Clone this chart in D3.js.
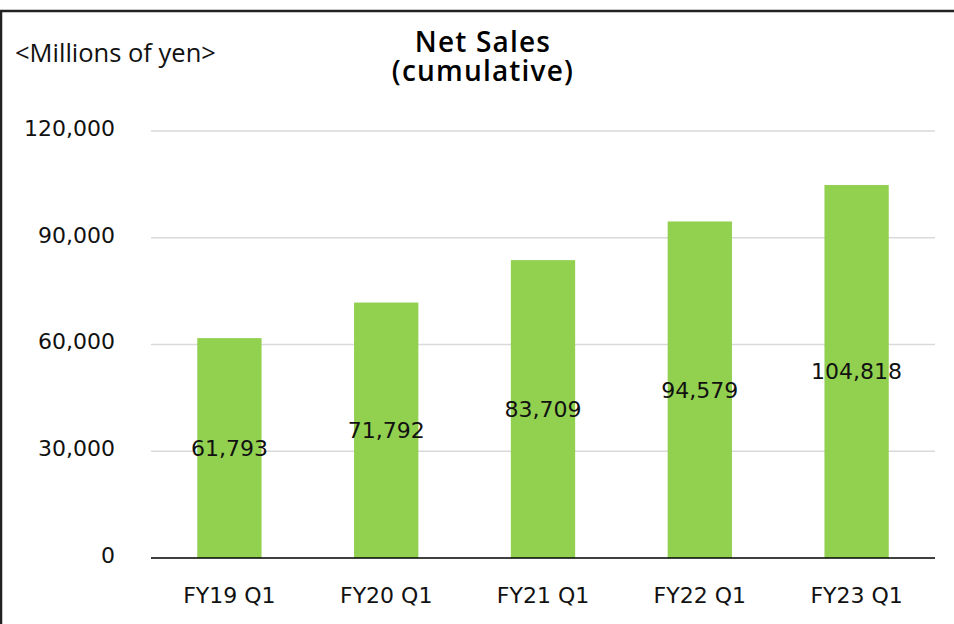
<!DOCTYPE html>
<html>
<head>
<meta charset="utf-8">
<script src="https://cdn.jsdelivr.net/npm/d3@7"></script>
<style>
  body { margin: 0; background: #fff; }
  svg { display: block; }
  .tick-label { font-family: "DejaVu Sans", sans-serif; font-size: 22px; fill: #111; }
  .value-label { font-family: "DejaVu Sans", sans-serif; font-size: 22px; fill: #111; }
  .title { font-family: "Open Sans", sans-serif; font-weight: 600; font-size: 28px; letter-spacing: 1.2px; fill: #000; }
  .unit { font-family: "Open Sans", sans-serif; font-size: 25.5px; fill: #111; }
</style>
</head>
<body>
<div id="chart"></div>
<script>
// Data
const categories = ["FY19 Q1", "FY20 Q1", "FY21 Q1", "FY22 Q1", "FY23 Q1"];
const netSales = [61793, 71792, 83709, 94579, 104818];
const yTicks = [0, 30000, 60000, 90000, 120000];
const titleLines = ["Net Sales", "(cumulative)"];

const width = 954, height = 624;
const margin = { top: 131, right: 19, bottom: 66, left: 151 };

const svg = d3.select("#chart")
    .append("svg")
    .attr("width", width)
    .attr("height", height);

// outer frame (only top and left edges show)
svg.append("path")
    .attr("d", `M1,${height}V11H${width}`)
    .attr("fill", "none")
    .attr("stroke", "#222")
    .attr("stroke-width", 2.5);

const x = d3.scaleBand()
    .domain(categories)
    .range([margin.left, width - margin.right])
    .paddingInner(0.59)
    .paddingOuter(0.295);

const y = d3.scaleLinear()
    .domain([0, 120000])
    .range([height - margin.bottom, margin.top]);

const fmt = d3.format(",");

// gridlines
svg.append("g")
    .selectAll("line")
    .data(yTicks.filter(d => d > 0))
    .join("line")
    .attr("x1", margin.left)
    .attr("x2", width - margin.right)
    .attr("y1", d => y(d))
    .attr("y2", d => y(d))
    .attr("stroke", "#d9d9d9")
    .attr("stroke-width", 1.5);

// y tick labels
svg.append("g")
    .selectAll("text")
    .data(yTicks)
    .join("text")
    .attr("class", "tick-label")
    .attr("x", 115)
    .attr("y", d => y(d) - 3)
    .attr("dy", "0.36em")
    .attr("text-anchor", "end")
    .text(d => fmt(d));

// bars
svg.append("g")
    .selectAll("rect")
    .data(netSales)
    .join("rect")
    .attr("x", (d, i) => x(categories[i]))
    .attr("width", x.bandwidth())
    .attr("y", d => y(d))
    .attr("height", d => y(0) - y(d))
    .attr("fill", "#92d050");

// baseline
svg.append("line")
    .attr("x1", margin.left)
    .attr("x2", width - margin.right)
    .attr("y1", y(0))
    .attr("y2", y(0))
    .attr("stroke", "#000")
    .attr("stroke-width", 1.5);

// value labels in the middle of each bar
svg.append("g")
    .selectAll("text")
    .data(netSales)
    .join("text")
    .attr("class", "value-label")
    .attr("x", (d, i) => x(categories[i]) + x.bandwidth() / 2)
    .attr("y", d => (y(d) + y(0)) / 2)
    .attr("dy", "0.36em")
    .attr("text-anchor", "middle")
    .text(d => fmt(d));

// category labels
svg.append("g")
    .selectAll("text")
    .data(categories)
    .join("text")
    .attr("class", "tick-label")
    .attr("x", d => x(d) + x.bandwidth() / 2)
    .attr("y", 603)
    .attr("text-anchor", "middle")
    .text(d => d);

// title, two lines
svg.append("g")
    .selectAll("text")
    .data(titleLines)
    .join("text")
    .attr("class", "title")
    .attr("x", 483)
    .attr("y", (d, i) => 52 + i * 29)
    .attr("text-anchor", "middle")
    .text(d => d);

svg.append("text")
    .attr("class", "unit")
    .attr("x", 15)
    .attr("y", 62)
    .text("<Millions of yen>");
</script>
</body>
</html>
